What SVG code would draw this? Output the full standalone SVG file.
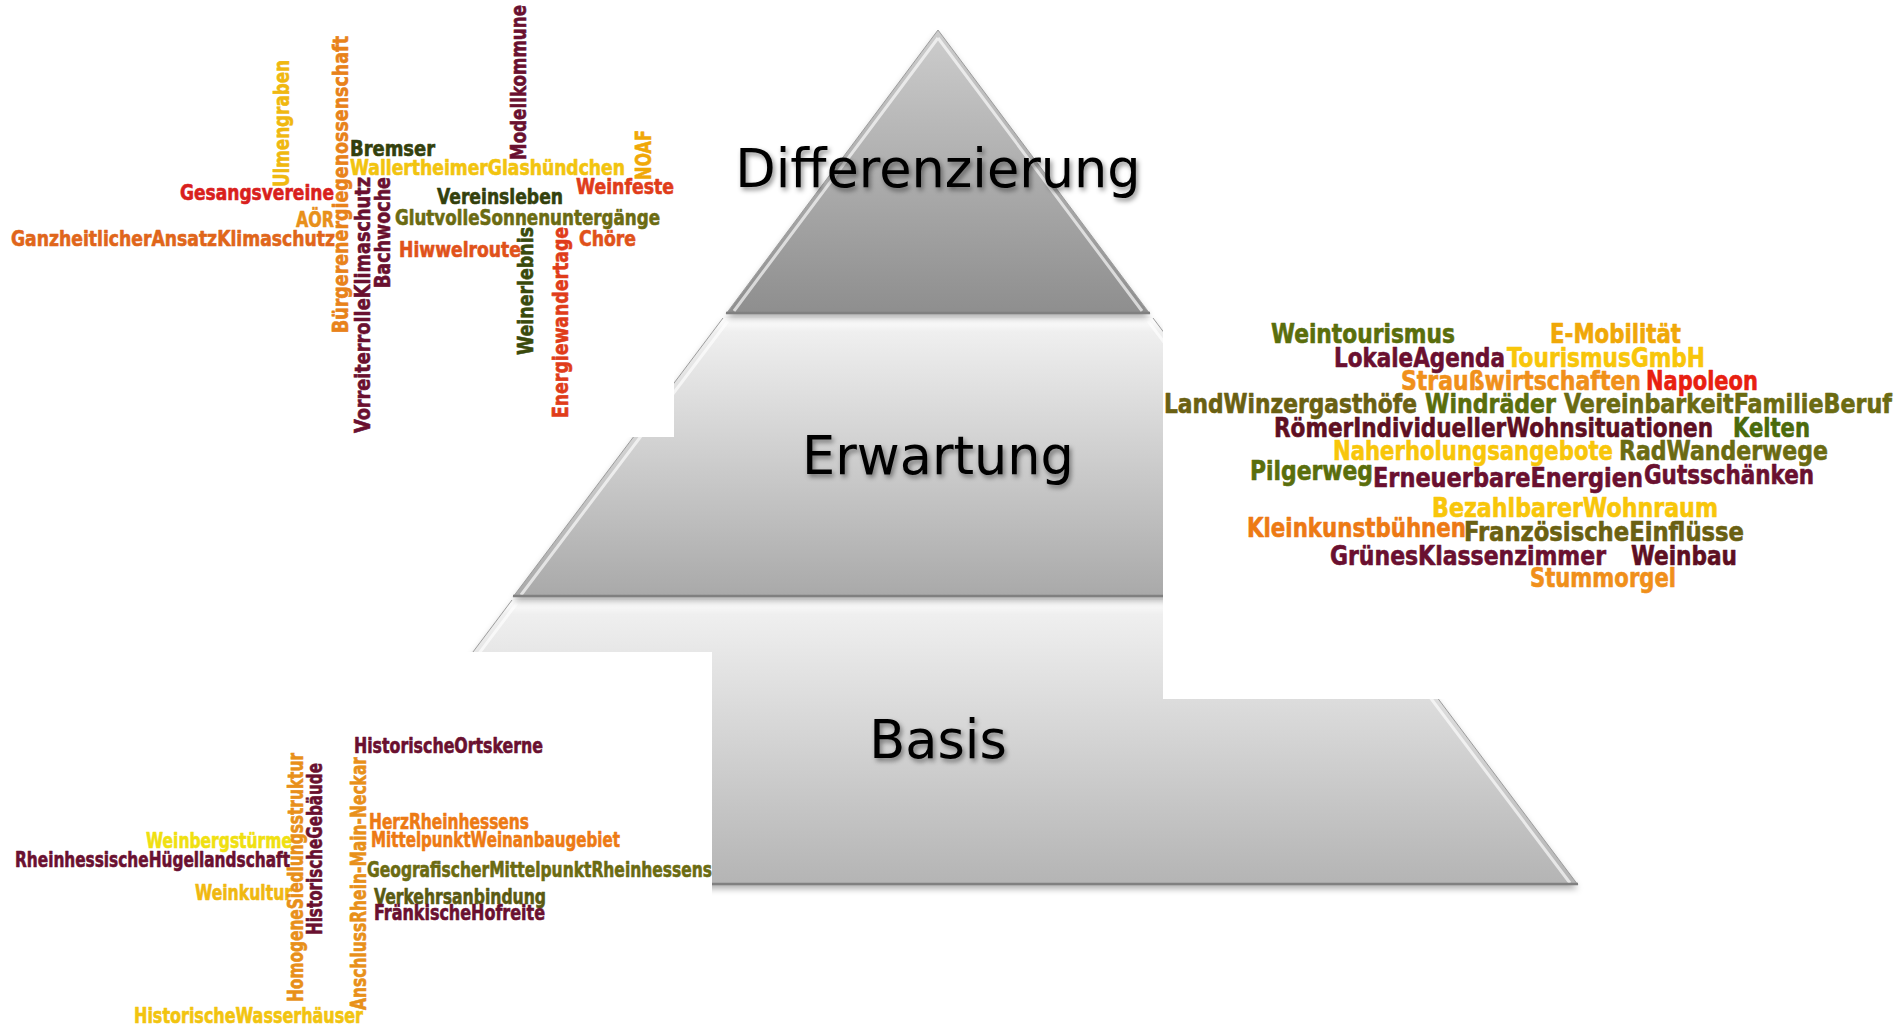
<svg xmlns="http://www.w3.org/2000/svg" width="1895" height="1027" viewBox="0 0 1895 1027">
<style>
.w{font-family:"DejaVu Sans Condensed","DejaVu Sans",sans-serif;font-weight:bold;font-stretch:condensed;stroke-width:0.6;stroke-linejoin:round}
.s20{font-size:21px}
.s26{font-size:27px}
.lbl{font-family:"DejaVu Sans","Verdana",sans-serif;font-size:52.5px;fill:#000;text-anchor:middle}
.hl{fill:none;stroke:#ffffff;stroke-opacity:0.65;stroke-width:3}
.edge{fill:none;stroke:#9c9c9c;stroke-width:1}
.bot{stroke:#808080;stroke-width:2.5}
.mar{fill:#6a1030;stroke:#6a1030}
.mar2{fill:#5e0f22;stroke:#5e0f22}
.dk{fill:#33400c;stroke:#33400c}
.gr{fill:#3a4a0c;stroke:#3a4a0c}
.ol{fill:#6b6b12;stroke:#6b6b12}
.olb{fill:#6a6012;stroke:#6a6012}
.olg{fill:#5a6e0c;stroke:#5a6e0c}
.ol2{fill:#5a5a12;stroke:#5a5a12}
.lg{fill:#4a6a0c;stroke:#4a6a0c}
.yel{fill:#f2c40f;stroke:#f2c40f}
.yel2{fill:#f0b810;stroke:#f0b810}
.yel3{fill:#f8c60a;stroke:#f8c60a}
.yel4{fill:#f0e010;stroke:#f0e010}
.oy{fill:#f0a808;stroke:#f0a808}
.or{fill:#e8821a;stroke:#e8821a}
.or2{fill:#e8901a;stroke:#e8901a}
.or3{fill:#e0661a;stroke:#e0661a}
.or4{fill:#f0901a;stroke:#f0901a}
.or5{fill:#ed7a14;stroke:#ed7a14}
.orr{fill:#e0521a;stroke:#e0521a}
.er{fill:#e03c1a;stroke:#e03c1a}
.red{fill:#d9201c;stroke:#d9201c}
.rd{fill:#e82010;stroke:#e82010}
</style>
<defs>
<linearGradient id="gTop" x1="0" y1="0" x2="0" y2="1">
<stop offset="0" stop-color="#cdcdcd"/><stop offset="1" stop-color="#8e8e8e"/>
</linearGradient>
<linearGradient id="gMid" x1="0" y1="0" x2="0" y2="1">
<stop offset="0" stop-color="#ffffff"/><stop offset="0.05" stop-color="#efefef"/><stop offset="1" stop-color="#a9a9a9"/>
</linearGradient>
<linearGradient id="gBot" x1="0" y1="0" x2="0" y2="1">
<stop offset="0" stop-color="#ffffff"/><stop offset="0.05" stop-color="#efefef"/><stop offset="1" stop-color="#b4b4b4"/>
</linearGradient>
<filter id="sh" x="-10%" y="-10%" width="120%" height="125%">
<feDropShadow dx="0" dy="4" stdDeviation="3" flood-color="#000" flood-opacity="0.3"/>
</filter>
<filter id="tsh" x="-10%" y="-30%" width="120%" height="160%">
<feDropShadow dx="2" dy="3" stdDeviation="2.5" flood-color="#000" flood-opacity="0.45"/>
</filter>
</defs>

<g id="layer-basis">
<path d="M512,600 L1364,600 L1578,885 L298,885 Z" fill="url(#gBot)" filter="url(#sh)"/>
<path class="edge" d="M512,600 L298,885 M1364,600 L1578,885"/>
<path class="hl" d="M517,603 L306,883 M1359,603 L1570,883"/>
<line class="bot" x1="298" y1="884" x2="1578" y2="884"/>
</g>
<g id="layer-erwartung">
<path d="M723,318 L1153,318 L1363,597 L513,597 Z" fill="url(#gMid)" filter="url(#sh)"/>
<path class="edge" d="M723,318 L513,597 M1153,318 L1363,597"/>
<path class="hl" d="M728,321 L521,595 M1148,321 L1355,595"/>
<line class="bot" x1="513" y1="596" x2="1363" y2="596"/>
</g>
<g id="layer-differenzierung">
<path d="M938,30 L1150,314 L726,314 Z" fill="url(#gTop)" filter="url(#sh)"/>
<path class="edge" d="M938,30 L726,314 M938,30 L1150,314"/>
<path class="hl" d="M938,38 L734,311 M938,38 L1142,311"/>
<line class="bot" x1="726" y1="313" x2="1150" y2="313"/>
</g>

<g id="cloud-top-left">
<rect x="0" y="0" width="674" height="437" fill="#fff"/>
<g class="w s20">
<text x="350" y="156" class="dk" textLength="85" lengthAdjust="spacingAndGlyphs">Bremser</text>
<text x="350" y="175" class="yel" textLength="275" lengthAdjust="spacingAndGlyphs">WallertheimerGlashündchen</text>
<text x="576" y="194" class="er" textLength="98" lengthAdjust="spacingAndGlyphs">Weinfeste</text>
<text x="180" y="200" class="red" textLength="154" lengthAdjust="spacingAndGlyphs">Gesangsvereine</text>
<text x="437" y="204" class="dk" textLength="126" lengthAdjust="spacingAndGlyphs">Vereinsleben</text>
<text x="296" y="227" class="or2" textLength="38" lengthAdjust="spacingAndGlyphs">AÖR</text>
<text x="395" y="225" class="ol" textLength="265" lengthAdjust="spacingAndGlyphs">GlutvolleSonnenuntergänge</text>
<text x="11" y="246" class="or3" textLength="324" lengthAdjust="spacingAndGlyphs">GanzheitlicherAnsatzKlimaschutz</text>
<text x="579" y="246" class="orr" textLength="57" lengthAdjust="spacingAndGlyphs">Chöre</text>
<text x="399" y="257" class="orr" textLength="122" lengthAdjust="spacingAndGlyphs">Hiwwelroute</text>
<text transform="translate(289,187) rotate(-90)" class="yel2" textLength="127" lengthAdjust="spacingAndGlyphs">Ulmengraben</text>
<text transform="translate(348,333) rotate(-90)" class="or" textLength="297" lengthAdjust="spacingAndGlyphs">Bürgerenergiegenossenschaft</text>
<text transform="translate(370,433) rotate(-90)" class="mar" textLength="256" lengthAdjust="spacingAndGlyphs">VorreiterrolleKlimaschutz</text>
<text transform="translate(390,288) rotate(-90)" class="mar" textLength="111" lengthAdjust="spacingAndGlyphs">Bachwoche</text>
<text transform="translate(526,160) rotate(-90)" class="mar" textLength="155" lengthAdjust="spacingAndGlyphs">Modellkommune</text>
<text transform="translate(651,180) rotate(-90)" class="oy" textLength="50" lengthAdjust="spacingAndGlyphs">NOAF</text>
<text transform="translate(533,355) rotate(-90)" class="gr" textLength="128" lengthAdjust="spacingAndGlyphs">Weinerlebnis</text>
<text transform="translate(568,418) rotate(-90)" class="er" textLength="191" lengthAdjust="spacingAndGlyphs">Energiewandertage</text>
</g>
</g>

<g id="cloud-right">
<rect x="1163" y="318" width="732" height="381" fill="#fff"/>
<g class="w s26">
<text x="1271" y="343" class="olg" textLength="184" lengthAdjust="spacingAndGlyphs">Weintourismus</text>
<text x="1550" y="343" class="oy" textLength="131" lengthAdjust="spacingAndGlyphs">E-Mobilität</text>
<text x="1334" y="367" class="mar" textLength="171" lengthAdjust="spacingAndGlyphs">LokaleAgenda</text>
<text x="1507" y="367" class="yel3" textLength="198" lengthAdjust="spacingAndGlyphs">TourismusGmbH</text>
<text x="1401" y="390" class="or4" textLength="240" lengthAdjust="spacingAndGlyphs">Straußwirtschaften</text>
<text x="1646" y="390" class="rd" textLength="112" lengthAdjust="spacingAndGlyphs">Napoleon</text>
<text x="1164" y="413" class="olb" textLength="253" lengthAdjust="spacingAndGlyphs">LandWinzergasthöfe</text>
<text x="1425" y="413" class="olg" textLength="131" lengthAdjust="spacingAndGlyphs">Windräder</text>
<text x="1564" y="413" class="ol" textLength="328" lengthAdjust="spacingAndGlyphs">VereinbarkeitFamilieBeruf</text>
<text x="1274" y="437" class="mar2" textLength="439" lengthAdjust="spacingAndGlyphs">RömerIndividuellerWohnsituationen</text>
<text x="1733" y="437" class="lg" textLength="77" lengthAdjust="spacingAndGlyphs">Kelten</text>
<text x="1333" y="460" class="yel3" textLength="280" lengthAdjust="spacingAndGlyphs">Naherholungsangebote</text>
<text x="1619" y="460" class="ol" textLength="209" lengthAdjust="spacingAndGlyphs">RadWanderwege</text>
<text x="1250" y="480" class="olg" textLength="123" lengthAdjust="spacingAndGlyphs">Pilgerweg</text>
<text x="1373" y="487" class="mar" textLength="270" lengthAdjust="spacingAndGlyphs">ErneuerbareEnergien</text>
<text x="1644" y="484" class="mar" textLength="170" lengthAdjust="spacingAndGlyphs">Gutsschänken</text>
<text x="1432" y="517" class="yel3" textLength="286" lengthAdjust="spacingAndGlyphs">BezahlbarerWohnraum</text>
<text x="1247" y="537" class="or5" textLength="219" lengthAdjust="spacingAndGlyphs">Kleinkunstbühnen</text>
<text x="1464" y="541" class="olb" textLength="280" lengthAdjust="spacingAndGlyphs">FranzösischeEinflüsse</text>
<text x="1330" y="565" class="mar" textLength="276" lengthAdjust="spacingAndGlyphs">GrünesKlassenzimmer</text>
<text x="1631" y="565" class="mar2" textLength="106" lengthAdjust="spacingAndGlyphs">Weinbau</text>
<text x="1530" y="587" class="or4" textLength="146" lengthAdjust="spacingAndGlyphs">Stummorgel</text>
</g>
</g>

<g id="cloud-bottom-left">
<rect x="0" y="652" width="712" height="375" fill="#fff"/>
<g class="w s20">
<text x="354" y="753" class="mar" textLength="189" lengthAdjust="spacingAndGlyphs">HistorischeOrtskerne</text>
<text x="369" y="829" class="or5" textLength="160" lengthAdjust="spacingAndGlyphs">HerzRheinhessens</text>
<text x="371" y="847" class="or5" textLength="249" lengthAdjust="spacingAndGlyphs">MittelpunktWeinanbaugebiet</text>
<text x="146" y="848" class="yel4" textLength="146" lengthAdjust="spacingAndGlyphs">Weinbergstürme</text>
<text x="15" y="867" class="mar" textLength="275" lengthAdjust="spacingAndGlyphs">RheinhessischeHügellandschaft</text>
<text x="367" y="877" class="ol" textLength="345" lengthAdjust="spacingAndGlyphs">GeografischerMittelpunktRheinhessens</text>
<text x="195" y="900" class="yel2" textLength="97" lengthAdjust="spacingAndGlyphs">Weinkultur</text>
<text x="374" y="904" class="ol2" textLength="172" lengthAdjust="spacingAndGlyphs">Verkehrsanbindung</text>
<text x="374" y="920" class="mar" textLength="171" lengthAdjust="spacingAndGlyphs">FränkischeHofreite</text>
<text x="134" y="1023" class="yel" textLength="229" lengthAdjust="spacingAndGlyphs">HistorischeWasserhäuser</text>
<text transform="translate(303,1002) rotate(-90)" class="or2" textLength="249" lengthAdjust="spacingAndGlyphs">HomogeneSiedlungsstruktur</text>
<text transform="translate(322,935) rotate(-90)" class="mar" textLength="172" lengthAdjust="spacingAndGlyphs">HistorischeGebäude</text>
<text transform="translate(366,1010) rotate(-90)" class="or2" textLength="253" lengthAdjust="spacingAndGlyphs">AnschlussRhein-Main-Neckar</text>
</g>
</g>

<g id="labels" filter="url(#tsh)">
<text class="lbl" x="938" y="187">Differenzierung</text>
<text class="lbl" x="938" y="474">Erwartung</text>
<text class="lbl" x="938" y="758">Basis</text>
</g>
<g id="connectors"/>
</svg>
